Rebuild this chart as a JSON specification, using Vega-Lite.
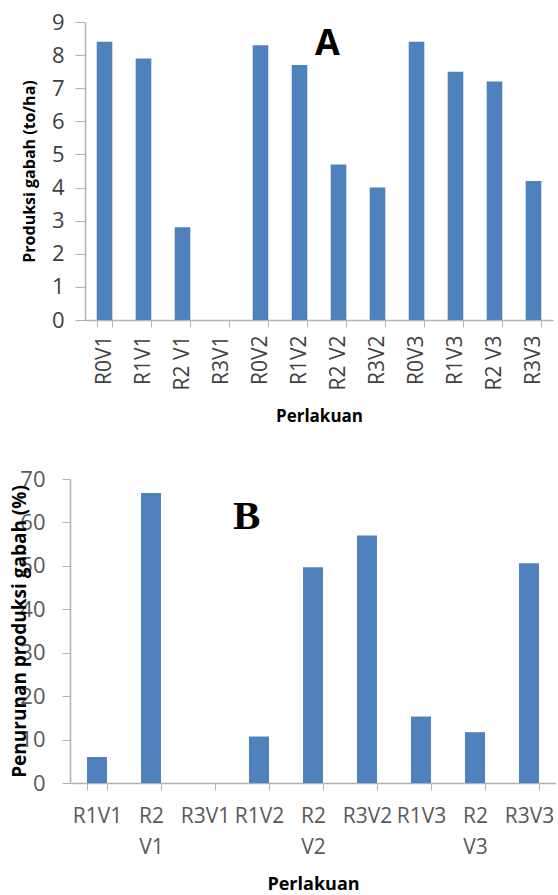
{
  "$schema": "https://vega.github.io/schema/vega-lite/v6.json",
  "background": "white",
  "padding": {"left": 10, "top": 11, "right": 0, "bottom": 0},
  "config": {"view": {"stroke": null}, "axis": {"grid": false}},
  "datasets": {
    "produksi": [
      {"perlakuan": "R0V1", "produksi": 8.4},
      {"perlakuan": "R1V1", "produksi": 7.9},
      {"perlakuan": "R2 V1", "produksi": 2.8},
      {"perlakuan": "R3V1", "produksi": 0},
      {"perlakuan": "R0V2", "produksi": 8.3},
      {"perlakuan": "R1V2", "produksi": 7.7},
      {"perlakuan": "R2 V2", "produksi": 4.7},
      {"perlakuan": "R3V2", "produksi": 4.0},
      {"perlakuan": "R0V3", "produksi": 8.4},
      {"perlakuan": "R1V3", "produksi": 7.5},
      {"perlakuan": "R2 V3", "produksi": 7.2},
      {"perlakuan": "R3V3", "produksi": 4.2}
    ],
    "penurunan": [
      {"perlakuan": "R1V1", "penurunan": 6.0},
      {"perlakuan": "R2 V1", "penurunan": 66.8},
      {"perlakuan": "R3V1", "penurunan": 0},
      {"perlakuan": "R1V2", "penurunan": 10.7},
      {"perlakuan": "R2 V2", "penurunan": 49.7},
      {"perlakuan": "R3V2", "penurunan": 57.0},
      {"perlakuan": "R1V3", "penurunan": 15.3},
      {"perlakuan": "R2 V3", "penurunan": 11.7},
      {"perlakuan": "R3V3", "penurunan": 50.6}
    ]
  },
  "vconcat": [
    {
      "data": {"name": "produksi"},
      "width": 483,
      "height": 298,
      "title": {"text": "A", "font": "Open Sans", "fontSize": 36, "fontWeight": "bold", "color": "black", "anchor": "start", "frame": "group", "baseline": "top", "dx": 245, "dy": 52, "offset": 0},
      "mark": {"type": "bar", "color": "#4f81bd"},
      "encoding": {
        "x": {
          "field": "perlakuan", "type": "nominal", "sort": null,
          "scale": {"paddingInner": 0.6, "paddingOuter": 0.3, "range": [15, 483]},
          "axis": {
            "title": "Perlakuan", "titleFont": "Open Sans", "titleFontSize": 17, "titleFontWeight": "bold", "titleColor": "black", "titlePadding": 19,
            "labelAngle": -90, "labelFont": "Open Sans", "labelFontSize": 21, "labelColor": "#404040", "labelPadding": 8,
            "tickBand": "extent", "tickSize": 7, "tickColor": "#b3b3b3", "domainColor": "#b3b3b3", "domainWidth": 1.5
          }
        },
        "y": {
          "field": "produksi", "type": "quantitative",
          "scale": {"domain": [0, 9], "nice": false},
          "axis": {
            "offset": -15,
            "title": "Produksi gabah (to/ha)", "titleFont": "Open Sans", "titleFontSize": 16, "titleFontWeight": "bold", "titleColor": "black",
            "titleX": -64, "titleBaseline": "top",
            "values": [0, 1, 2, 3, 4, 5, 6, 7, 8, 9],
            "labelFont": "Open Sans", "labelFontSize": 22, "labelColor": "#404040", "labelPadding": 11,
            "tickSize": 10, "tickColor": "#b3b3b3", "domainColor": "#b3b3b3", "domainWidth": 1.5
          }
        }
      }
    },
    {
      "data": {"name": "penurunan"},
      "width": 486,
      "height": 304,
      "title": {"text": "B", "font": "Liberation Serif", "fontSize": 41, "fontWeight": "bold", "color": "black", "anchor": "start", "frame": "group", "baseline": "top", "dx": 163, "dy": 70, "offset": 0},
      "mark": {"type": "bar", "color": "#4f81bd"},
      "encoding": {
        "x": {
          "field": "perlakuan", "type": "nominal", "sort": null,
          "scale": {"paddingInner": 0.63, "paddingOuter": 0.315},
          "axis": {
            "title": "Perlakuan", "titleFont": "Open Sans", "titleFontSize": 18, "titleFontWeight": "bold", "titleColor": "black", "titlePadding": 18,
            "labelAngle": 0, "labelFont": "Open Sans", "labelFontSize": 21, "labelColor": "#595959", "labelPadding": 15,
            "labelExpr": "split(datum.label, ' ')", "labelLineHeight": 31, "labelBaseline": "top",
            "tickBand": "extent", "tickSize": 7, "tickColor": "#b3b3b3", "domainColor": "#b3b3b3", "domainWidth": 1.5
          }
        },
        "y": {
          "field": "penurunan", "type": "quantitative",
          "scale": {"domain": [0, 70], "nice": false},
          "axis": {
            "title": "Penurunan produksi gabah (%)", "titleFont": "Open Sans", "titleFontSize": 19, "titleFontWeight": "bold", "titleColor": "black",
            "titleX": -60, "titleBaseline": "top",
            "values": [0, 10, 20, 30, 40, 50, 60, 70],
            "labelFont": "Open Sans", "labelFontSize": 22, "labelColor": "#595959", "labelPadding": 17,
            "tickSize": 8, "tickColor": "#b3b3b3", "domainColor": "#b3b3b3", "domainWidth": 1.5
          }
        }
      }
    }
  ],
  "spacing": 43
}
